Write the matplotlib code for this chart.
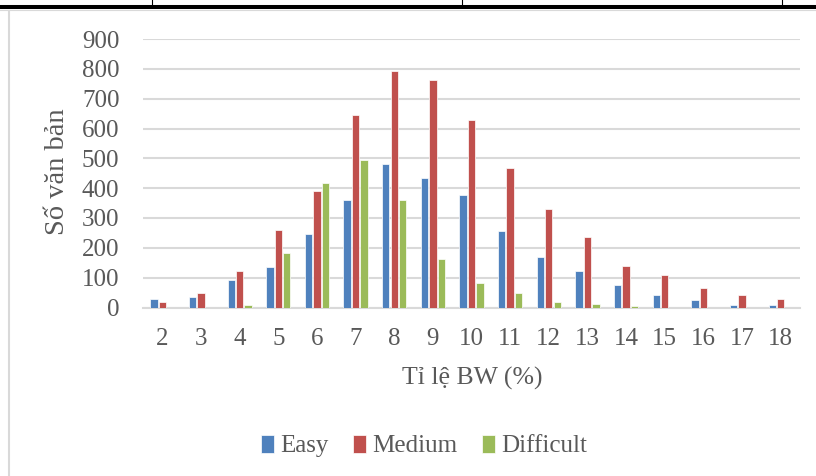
import numpy as np
import matplotlib.pyplot as plt
from matplotlib.lines import Line2D

plt.rcParams['font.family'] = ['Liberation Serif', 'DejaVu Serif']

# dữ liệu
categories = [str(c) for c in range(2, 19)]
easy = [27, 36, 93, 137, 246, 359, 482, 435, 376, 258, 169, 121, 75, 41, 26, 10, 7]
medium = [19, 47, 123, 259, 391, 644, 793, 762, 629, 468, 331, 236, 139, 108, 65, 41, 28]
difficult = [0, 0, 8, 182, 416, 495, 362, 161, 82, 47, 18, 13, 5, 0, 0, 0, 0]
series = ['Easy', 'Medium', 'Difficult']
colors = ['#4F81BD', '#C0504D', '#9BBB59']
text_color = '#595959'

W, H = 816, 476
fig = plt.figure(figsize=(W / 100, H / 100), dpi=100)
ax = fig.add_axes([143 / W, 1 - 307.5 / H, (800 - 143) / W, (307.5 - 39) / H])

x = np.arange(len(categories))
width = 0.19
step = 0.218
for i, (vals, name) in enumerate(zip([easy, medium, difficult], series)):
    ax.bar(x + (i - 1) * step, vals, width, color=colors[i], label=name,
           edgecolor='white', linewidth=0.5, zorder=3)

ax.set_xlim(-0.5, len(categories) - 0.5)
ax.set_ylim(0, 900)
ax.set_yticks(range(0, 901, 100))
ax.set_xticks(x)
ax.set_xticklabels(categories)
ax.grid(axis='y', color='#D9D9D9', linewidth=1.5, zorder=0)
ax.set_axisbelow(True)
for s in ['top', 'right', 'left']:
    ax.spines[s].set_visible(False)
ax.spines['bottom'].set_color('#D9D9D9')
ax.spines['bottom'].set_linewidth(1.5)
ax.tick_params(length=0, labelsize=18, labelcolor=text_color)
ax.tick_params(axis='y', pad=17)
ax.tick_params(axis='x', pad=15)

fig.text(58 / W, 1 - 172 / H, 'Số văn bản', rotation=90, ha='center', va='center',
         fontsize=20.5, color=text_color)
fig.text(472 / W, 1 - 378 / H, 'Tỉ lệ BW (%)', ha='center', va='center',
         fontsize=18.5, color=text_color)

fig.legend(loc='center', bbox_to_anchor=(424 / W, 1 - 446 / H), ncol=3, frameon=False,
           fontsize=18, labelcolor=text_color, handlelength=0.5, handleheight=0.75,
           handletextpad=0.25, columnspacing=1.0)

# khung bảng xung quanh
def px_line(x0, y0, x1, y1, lw, color):
    fig.add_artist(Line2D([x0 / W, x1 / W], [1 - y0 / H, 1 - y1 / H],
                          transform=fig.transFigure, lw=lw, color=color))

px_line(0, 7.3, W, 7.3, 2.9, 'black')
px_line(0, 10.3, W, 10.3, 0.8, '#D9D9D9')
for vx in [152, 462, 782]:
    px_line(vx, 0, vx, 6, 0.8, 'black')
px_line(9, 10.5, 9, H, 1.5, '#D9D9D9')

plt.savefig('out.png', dpi=100)
